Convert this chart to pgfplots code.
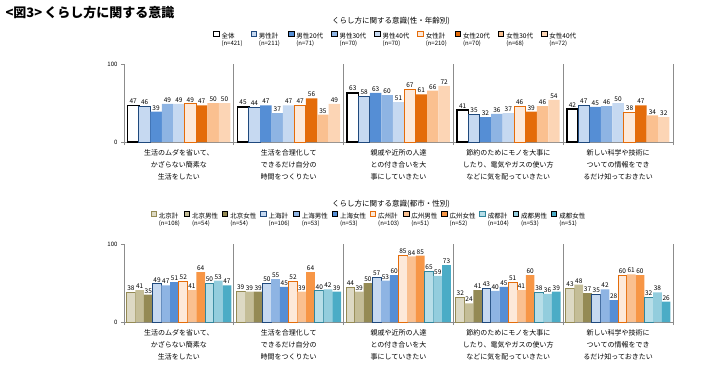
\documentclass[border=0pt]{standalone}
\usepackage{pgfplots}
\pgfplotsset{compat=1.18}
\usepackage{pgfplotstable}
\usepackage{fontspec}
\setmainfont{Noto Sans CJK JP}

\definecolor{axisgray}{HTML}{8C8C8C}
\definecolor{navy}{HTML}{1F497D}
\definecolor{mb20}{HTML}{558ED5}
\definecolor{mb30}{HTML}{8EB4E3}
\definecolor{mb40}{HTML}{C6D9F1}
\definecolor{fpeach}{HTML}{FDE9D9}
\definecolor{forange}{HTML}{E46C0A}
\definecolor{f30}{HTML}{FAC090}
\definecolor{f40}{HTML}{FCD5B5}
\definecolor{bjk}{HTML}{DDD9C4}
\definecolor{bjb}{HTML}{948A54}
\definecolor{bjm}{HTML}{C4BD97}
\definecolor{gzf}{HTML}{F79646}
\definecolor{cdk}{HTML}{B7DEE8}
\definecolor{cdb}{HTML}{31859C}
\definecolor{cdm}{HTML}{93CDDD}
\definecolor{cdf}{HTML}{4BACC6}

\pgfplotstableread{
g s1 s2 s3 s4 s5 s6 s7 s8 s9
0 47 46 39 49 49 49 47 50 50
1 45 44 47 37 47 47 56 35 49
2 63 58 63 60 51 67 61 66 72
3 41 35 32 36 37 46 39 46 54
4 42 47 45 46 50 38 47 34 32
}\topdata

\pgfplotstableread{
g b1 b2 b3 b4 b5 b6 b7 b8 b9 b10 b11 b12
0 38 41 35 49 47 51 52 41 64 50 53 47
1 39 39 39 50 55 45 52 39 64 40 42 39
2 44 39 50 57 53 60 85 84 85 65 59 73
3 32 24 41 43 40 45 51 41 60 38 36 39
4 43 48 37 35 42 28 60 61 60 32 38 26
}\botdata

\newcommand{\legtext}[2]{\begin{tabular}[t]{@{}l@{}}#1\\[-1.5pt]{\fontsize{6}{8}\selectfont(n=#2)}\end{tabular}}

\pgfplotsset{
  common/.style={
    scale only axis, width=549pt, height=78pt,
    xmin=-0.5, xmax=4.5, ymin=0, ymax=100,
    axis lines*=left,
    axis line style={draw=axisgray, line width=0.8pt},
    xtick={-0.5,0.5,1.5,2.5,3.5,4.5}, xticklabels={},
    xmajorgrids, major grid style={draw=axisgray, line width=0.8pt},
    x tick style={draw=axisgray, line width=0.8pt}, major tick length=3pt,
    tick align=outside,
    ytick={0,100}, y tick style={draw=axisgray, line width=0.8pt},
    yticklabel style={font=\fontsize{6}{7}\selectfont},
    extra x ticks={0,1,2,3,4},
    extra x tick labels={{生活のムダを省いて、\\かざらない簡素な\\生活をしたい},
      {生活を合理化して\\できるだけ自分の\\時間をつくりたい},
      {親戚や近所の人達\\との付き合いを大\\事にしていきたい},
      {節約のためにモノを大事に\\したり、電気やガスの使い方\\などに気を配っていきたい},
      {新しい科学や技術に\\ついての情報をでき\\るだけ知っておきたい}},
    extra x tick style={grid=none, major tick length=0pt,
      xticklabel style={align=center, font=\fontsize{7}{12}\selectfont, yshift=-4pt}},
    nodes near coords,
    every node near coord/.append style={font=\fontsize{6.5}{7}\selectfont, inner sep=1.2pt, text=black},
    /pgf/number format/assume math mode=true,
    legend cell align=left,
    clip=false,
  },
  sqlegend/.style={
    legend image code/.code={\draw[##1, line width=0.9pt] (0pt,0.3pt) rectangle (5.5pt,5.8pt);},
  },
}

\begin{document}
\begin{tikzpicture}
\useasboundingbox (0,-365pt) rectangle (711pt,0);
\node[anchor=west, font=\bfseries\fontsize{13}{15}\selectfont] at (2pt,-13pt) {<図3>\,くらし方に関する意識};
\node[font=\fontsize{7.5}{9}\selectfont] at (391pt,-21pt) {くらし方に関する意識(性・年齢別)};
\node[font=\fontsize{7.5}{9}\selectfont] at (391pt,-204pt) {くらし方に関する意識(都市・性別)};

\begin{axis}[common,
  at={(124pt,-142pt)}, anchor=south west,
  ybar=0pt, bar width=0.104, sqlegend,
  legend columns=9,
  legend style={at={(0.162,1.43)}, anchor=north west, draw=none, fill=none,
    font=\fontsize{6.5}{8}\selectfont, inner sep=0pt,
    /tikz/every even column/.append style={column sep=6pt}},
]
\addplot[fill=white, draw=black, line width=1.6pt] table[x=g,y=s1]{\topdata};
\addplot[fill=mb40, draw=navy, line width=1pt] table[x=g,y=s2]{\topdata};
\addplot[fill=mb20, draw=none] table[x=g,y=s3]{\topdata};
\addplot[fill=mb30, draw=none] table[x=g,y=s4]{\topdata};
\addplot[fill=mb40, draw=none] table[x=g,y=s5]{\topdata};
\addplot[fill=fpeach, draw=forange, line width=1pt] table[x=g,y=s6]{\topdata};
\addplot[fill=forange, draw=none] table[x=g,y=s7]{\topdata};
\addplot[fill=f30, draw=none] table[x=g,y=s8]{\topdata};
\addplot[fill=f40, draw=none] table[x=g,y=s9]{\topdata};
\legend{{\legtext{全体}{421}},{\legtext{男性計}{211}},{\legtext{男性20代}{71}},{\legtext{男性30代}{70}},{\legtext{男性40代}{70}},{\legtext{女性計}{210}},{\legtext{女性20代}{70}},{\legtext{女性30代}{68}},{\legtext{女性40代}{72}}}
\end{axis}

\begin{axis}[common,
  at={(124pt,-322pt)}, anchor=south west,
  ybar=0pt, bar width=0.0795, sqlegend,
  legend columns=12,
  legend style={at={(0.048,1.43)}, anchor=north west, draw=none, fill=none,
    font=\fontsize{6.5}{8}\selectfont, inner sep=0pt,
    /tikz/every even column/.append style={column sep=1.8pt}},
]
\addplot[fill=bjk, draw=bjb, line width=1pt] table[x=g,y=b1]{\botdata};
\addplot[fill=bjm, draw=none] table[x=g,y=b2]{\botdata};
\addplot[fill=bjb, draw=none] table[x=g,y=b3]{\botdata};
\addplot[fill=mb40, draw=navy, line width=1pt] table[x=g,y=b4]{\botdata};
\addplot[fill=mb30, draw=none] table[x=g,y=b5]{\botdata};
\addplot[fill=mb20, draw=none] table[x=g,y=b6]{\botdata};
\addplot[fill=fpeach, draw=forange, line width=1pt] table[x=g,y=b7]{\botdata};
\addplot[fill=f30, draw=none] table[x=g,y=b8]{\botdata};
\addplot[fill=gzf, draw=none] table[x=g,y=b9]{\botdata};
\addplot[fill=cdk, draw=cdb, line width=1pt] table[x=g,y=b10]{\botdata};
\addplot[fill=cdm, draw=none] table[x=g,y=b11]{\botdata};
\addplot[fill=cdf, draw=none] table[x=g,y=b12]{\botdata};
\legend{{\legtext{北京計}{108}},{\legtext{北京男性}{54}},{\legtext{北京女性}{54}},{\legtext{上海計}{106}},{\legtext{上海男性}{53}},{\legtext{上海女性}{53}},{\legtext{広州計}{103}},{\legtext{広州男性}{51}},{\legtext{広州女性}{52}},{\legtext{成都計}{104}},{\legtext{成都男性}{53}},{\legtext{成都女性}{51}}}
\end{axis}
\end{tikzpicture}
\end{document}
